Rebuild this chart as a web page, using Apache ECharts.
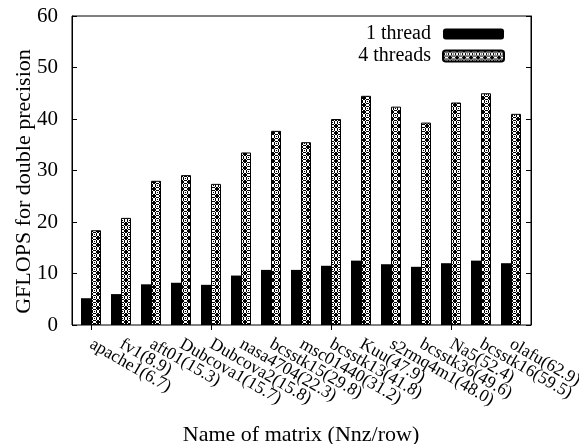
<!DOCTYPE html>
<html>
<head>
<meta charset="utf-8">
<script src="https://cdn.jsdelivr.net/npm/echarts@6/dist/echarts.min.js"></script>
<style>html,body{margin:0;padding:0;background:#fff}#c{width:579px;height:444px}</style>
</head>
<body>
<div id="c"></div>
<script>
const categories = ['apache1(6.7)','fv1(8.9)','aft01(15.3)','Dubcova1(15.7)','Dubcova2(15.8)','nasa4704(22.3)','bcsstk15(29.8)','msc01440(31.2)','bcsstk13(41.8)','Kuu(47.9)','s2rmq4m1(48.0)','bcsstk36(49.6)','Na5(52.4)','bcsstk16(59.5)','olafu(62.9)'];
const oneThread = [5.2, 6.0, 7.9, 8.2, 7.8, 9.6, 10.7, 10.7, 11.5, 12.5, 11.8, 11.3, 12.0, 12.5, 12.0];
const fourThreads = [18.4, 20.8, 28.0, 29.1, 27.4, 33.5, 37.7, 35.5, 40.0, 44.5, 42.4, 39.3, 43.2, 45.0, 41.0];
const yTicks = [0, 10, 20, 30, 40, 50, 60];

function makePattern() {
  const c = document.createElement('canvas');
  c.width = 7; c.height = 7;
  const g = c.getContext('2d');
  g.fillStyle = '#000'; g.fillRect(0, 0, 7, 7);
  g.fillStyle = '#fff';
  const ring = [[2,0],[3,0],[4,0],[1,1],[5,1],[0,2],[6,2],[0,3],[6,3],[0,4],[6,4],[1,5],[5,5],[2,6],[3,6],[4,6]];
  ring.forEach(p => g.fillRect(p[0], p[1], 1, 1));
  g.fillRect(2,2,3,3);
  g.fillStyle = '#000'; g.fillRect(3,3,1,1);
  return c;
}
const pat = makePattern();

const font = 'Liberation Serif';
const chart = echarts.init(document.getElementById('c'), null, {renderer: 'canvas'});
chart.setOption({
  animation: false,
  backgroundColor: '#fff',
  textStyle: {fontFamily: font, color: '#000'},
  grid: {left: 76, right: 53, top: 16, bottom: 119, outerBoundsMode: 'none', containLabel: false},
  legend: {
    orient: 'vertical', right: 69, top: 18, align: 'right',
    itemWidth: 61, itemHeight: 11, itemGap: 0,
    textStyle: {fontFamily: font, fontSize: 20, color: '#000', lineHeight: 22, padding: [0, 7, 0, 0]},
    data: ['1 thread', '4 threads']
  },
  xAxis: [{
    type: 'category', data: categories, position: 'bottom',
    axisLine: {show: false},
    axisTick: {show: true, inside: true, length: 5, alignWithLabel: true, lineStyle: {color: '#000'}},
    axisLabel: {rotate: -30, fontFamily: font, fontSize: 17.5, color: '#000', margin: 18, interval: 0},
    name: 'Name of matrix (Nnz/row)', nameLocation: 'middle', nameGap: 99, nameMoveOverlap: false,
    nameTextStyle: {fontFamily: font, fontSize: 22, color: '#000'}
  }, {
    type: 'category', data: categories, position: 'top',
    axisLine: {show: false},
    axisTick: {show: true, inside: true, length: 5, alignWithLabel: true, lineStyle: {color: '#000'}},
    axisLabel: {show: false}
  }],
  yAxis: [{
    type: 'value', min: 0, max: 60, interval: 10, offset: 4,
    axisLine: {show: true, lineStyle: {color: '#000'}},
    axisTick: {show: true, inside: true, length: 5, lineStyle: {color: '#000'}},
    axisLabel: {fontFamily: font, fontSize: 21, color: '#000', margin: 14,
      formatter: v => yTicks.includes(v) ? String(v) : ''},
    splitLine: {show: false},
    name: 'GFLOPS for double precision', nameLocation: 'middle', nameGap: 37, nameMoveOverlap: false,
    nameTextStyle: {fontFamily: font, fontSize: 22, color: '#000', padding: [0, 22, 0, 0]}
  }, {
    type: 'value', min: 0, max: 60, interval: 10, offset: 5, position: 'right',
    axisLine: {show: true, lineStyle: {color: '#000'}},
    axisTick: {show: true, inside: true, length: 5, lineStyle: {color: '#000'}},
    axisLabel: {show: false}, splitLine: {show: false}
  }],
  graphic: [{
    type: 'rect', shape: {x: 72, y: 16, width: 459, height: 309},
    style: {fill: null, stroke: '#000', lineWidth: 1}, silent: true, z: 100
  }],
  series: [{
    name: '1 thread', type: 'bar', data: oneThread, barWidth: 10, barGap: '0%',
    itemStyle: {color: '#000'}
  }, {
    name: '4 threads', type: 'bar', data: fourThreads, barWidth: 10, barGap: '0%',
    itemStyle: {color: {image: pat, repeat: 'repeat'}, borderColor: '#000', borderWidth: 1}
  }]
});
</script>
</body>
</html>
